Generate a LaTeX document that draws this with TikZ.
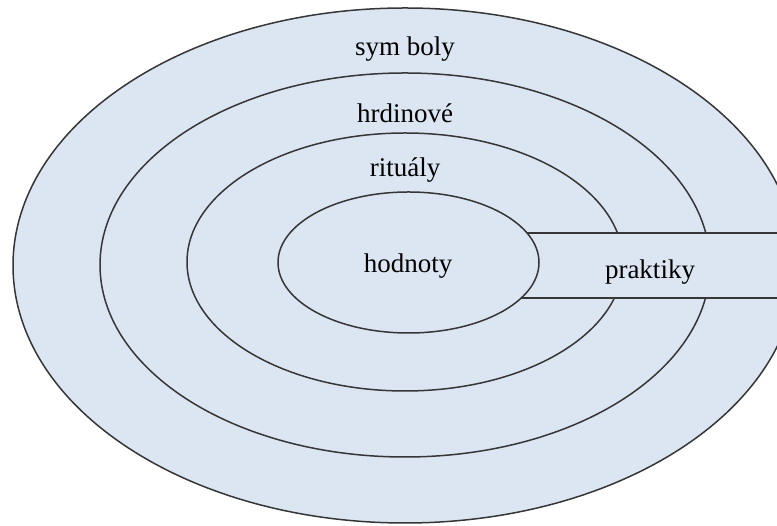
\documentclass[tikz,border=0pt]{standalone}
\usepackage{fontspec}
\setmainfont{Liberation Serif}
\usetikzlibrary{shapes.geometric}
\definecolor{ringfill}{HTML}{DCE6F2}
\definecolor{ringline}{HTML}{363636}
\tikzset{
  ring/.style={draw=ringline, fill=ringfill, line width=1.5pt},
  lbl/.style={font=\fontsize{27}{30}\selectfont, text=black, inner sep=0pt},
}
\begin{document}
\begin{tikzpicture}[x=1pt,y=1pt]
\useasboundingbox (0,0) rectangle (777,526);
\clip (0,0) rectangle (777,526);
\draw[ring] (405,260.5) ellipse [x radius=392, y radius=257.5];
\draw[ring] (405,261) ellipse [x radius=305, y radius=192];
\draw[ring] (405,264) ellipse [x radius=218, y radius=129];
\fill[ringfill] (450,228) rectangle (790,293);
\draw[ringline, line width=1.5pt] (450,293) -- (790,293);
\draw[ringline, line width=1.5pt] (450,228) -- (790,228);
\draw[ring] (408.5,263.5) ellipse [x radius=130.5, y radius=70.5];
\node[lbl] (symboly) at (405,477) {sym boly};
\node[lbl] (hrdinove) at (405,413) {hrdinové};
\node[lbl] (ritualy) at (405,356) {rituály};
\node[lbl] (hodnoty) at (408,260) {hodnoty};
\node[lbl] (praktiky) at (650,254) {praktiky};
\end{tikzpicture}
\end{document}
